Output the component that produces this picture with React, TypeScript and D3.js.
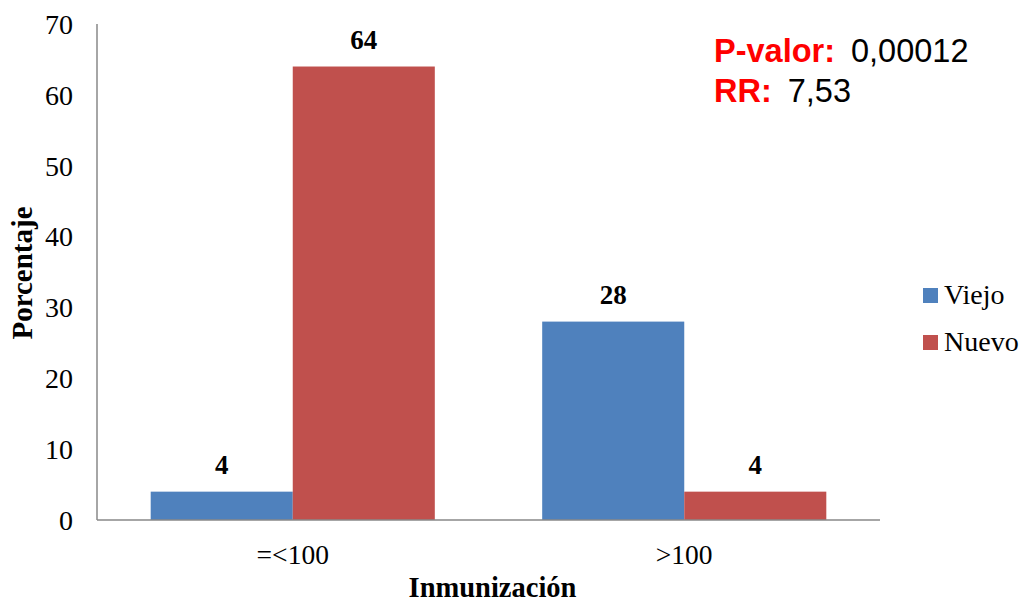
import { useEffect } from "react";
import * as d3 from "d3";

const categories = ["=<100", ">100"];
const seriesNames = ["Viejo", "Nuevo"];
const viejo = [4, 28];
const nuevo = [64, 4];
const yTicks = [0, 10, 20, 30, 40, 50, 60, 70];
const colors = ["#4F81BD", "#C0504D"];

const W = 1022;
const H = 605;
const left = 97;
const right = 880;
const top = 24;
const bottom = 520;
const serif = "'Liberation Serif', 'Times New Roman', serif";
const sans = "'Liberation Sans', Arial, sans-serif";

export default function App() {
  useEffect(() => {
    document.body.style.margin = "0";
  }, []);

  const x0 = d3.scaleBand<string>().domain(categories).range([left, right]).padding(0);
  const x1 = d3
    .scaleBand<string>()
    .domain(seriesNames)
    .range([0, x0.bandwidth()])
    .paddingInner(0)
    .paddingOuter(0.378);
  const y = d3.scaleLinear().domain([0, 70]).range([bottom, top]);

  const series = [viejo, nuevo];

  return (
    <svg width={W} height={H} style={{ display: "block", background: "#fff" }}>
      {/* bars */}
      {categories.map((c, i) => (
        <g key={c} transform={`translate(${x0(c)},0)`}>
          {seriesNames.map((s, j) => {
            const v = series[j][i];
            const bx = x1(s)!;
            return (
              <g key={s}>
                <rect
                  x={bx}
                  y={y(v)}
                  width={x1.bandwidth()}
                  height={bottom - y(v)}
                  fill={colors[j]}
                />
                <text
                  x={bx + x1.bandwidth() / 2}
                  y={y(v) - 18}
                  textAnchor="middle"
                  fontFamily={serif}
                  fontWeight="bold"
                  fontSize={27}
                >
                  {v}
                </text>
              </g>
            );
          })}
          <text
            x={x0.bandwidth() / 2}
            y={564}
            textAnchor="middle"
            fontFamily={serif}
            fontSize={27.5}
          >
            {c}
          </text>
        </g>
      ))}

      {/* axes */}
      <line x1={left} x2={left} y1={top} y2={bottom} stroke="#888" strokeWidth={1.5} />
      <line x1={left} x2={right} y1={bottom} y2={bottom} stroke="#888" strokeWidth={1.5} />
      {yTicks.map((t) => (
        <text
          key={t}
          x={73}
          y={y(t)}
          dy="0.35em"
          textAnchor="end"
          fontFamily={serif}
          fontSize={28}
        >
          {t}
        </text>
      ))}

      {/* axis titles */}
      <text
        x={(left + right) / 2 + 4}
        y={597}
        textAnchor="middle"
        fontFamily={serif}
        fontWeight="bold"
        fontSize={28.5}
      >
        Inmunización
      </text>
      <text
        transform={`translate(32, 273) rotate(-90)`}
        textAnchor="middle"
        fontFamily={serif}
        fontWeight="bold"
        fontSize={29}
      >
        Porcentaje
      </text>

      {/* legend */}
      {seriesNames.map((s, j) => (
        <g key={s} transform={`translate(923, ${288 + j * 47})`}>
          <rect width={15} height={15} fill={colors[j]} />
          <text x={21} y={16} fontFamily={serif} fontSize={28}>
            {s}
          </text>
        </g>
      ))}

      {/* annotation */}
      <text x={714} y={62} fontFamily={sans} fontSize={32.5}>
        <tspan fill="#FF0000" fontWeight="bold">P-valor:</tspan>
        <tspan fill="#000" dx={16}>0,00012</tspan>
      </text>
      <text x={714} y={102} fontFamily={sans} fontSize={32.5}>
        <tspan fill="#FF0000" fontWeight="bold">RR:</tspan>
        <tspan fill="#000" dx={16}>7,53</tspan>
      </text>
    </svg>
  );
}
